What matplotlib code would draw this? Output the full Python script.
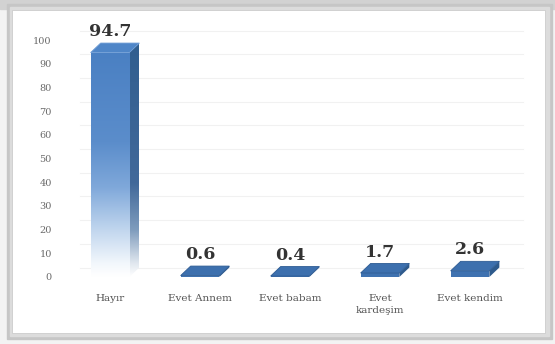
import numpy as np
import matplotlib
matplotlib.use("Agg")
import matplotlib.pyplot as plt
from matplotlib.patches import Polygon, Rectangle
from matplotlib.colors import LinearSegmentedColormap

categories = ["Hayır", "Evet Annem", "Evet babam", "Evet\nkardeşim", "Evet kendim"]
values = [94.7, 0.6, 0.4, 1.7, 2.6]
value_labels = ["94.7", "0.6", "0.4", "1.7", "2.6"]
yticks = [0, 10, 20, 30, 40, 50, 60, 70, 80, 90, 100]

W, H = 555, 344
fig = plt.figure(figsize=(W / 100, H / 100), dpi=100)
fig.patch.set_facecolor("#f2f2f2")

def fr(x0, y0, x1, y1):
    return (x0 / W, 1 - y1 / H, (x1 - x0) / W, (y1 - y0) / H)

# frame shadow and panel
bg = fig.add_axes([0, 0, 1, 1], zorder=-10)
bg.set_xlim(0, W); bg.set_ylim(H, 0); bg.axis("off")
bg.add_patch(Rectangle((0, 0), W, H, color="#f3f3f3"))
bg.add_patch(Rectangle((0, 0), W, 9, color="#d2d2d2"))
bg.add_patch(Rectangle((7, 4), 545, 335, color="#c6c6c6"))
bg.add_patch(Rectangle((10, 7), 539, 329, color="#dcdcdc"))
bg.add_patch(Rectangle((12, 10), 533, 323, facecolor="white", edgecolor="#cccccc", lw=0.6))

x0p, x1p = 65, 515
y0p, y1p = 277, 40
ax = fig.add_axes(fr(x0p, y1p, x1p, y0p))
ax.set_xlim(-0.5, 4.5)
ax.set_ylim(0, 100)
ax.set_facecolor("none")
for s in ax.spines.values():
    s.set_visible(False)

px_x = (x1p - x0p) / 5.0
px_y = (y0p - y1p) / 100.0
ddx = 10 / px_x
ddy = 9.5 / px_y

# back-wall gridlines
for t in yticks:
    ax.plot([-0.5 + ddx + 0.05, 4.5 + ddx - 0.02], [t + ddy, t + ddy],
            color="#f1f1f1", lw=0.8, zorder=0, clip_on=False)

xs = np.arange(len(categories))
bars = ax.bar(xs, values, width=0.43, color="#3f72b0", zorder=3)

front_cmap = LinearSegmentedColormap.from_list(
    "front", [(0, "#ffffff"), (0.06, "#f2f7fc"), (0.2, "#c4d8ef"), (0.4, "#7fa8da"),
              (0.6, "#5b8dcb"), (1, "#4a80c3")])
side_cmap = LinearSegmentedColormap.from_list(
    "side", [(0, "#ffffff"), (0.06, "#dfe6ee"), (0.2, "#7f9cbd"), (0.4, "#42699a"),
             (1, "#305e8f")])

for i, b in enumerate(bars):
    x = b.get_x(); w = b.get_width(); h = b.get_height()
    big = h > 20
    side = Polygon([(x + w, 0), (x + w + ddx, ddy), (x + w + ddx, h + ddy), (x + w, h)],
                   closed=True, facecolor="#2e5a8c", edgecolor="none", zorder=2.5)
    top = Polygon([(x, h), (x + ddx, h + ddy), (x + w + ddx, h + ddy), (x + w, h)],
                  closed=True, facecolor="#4f86c8" if big else "#3d70ae",
                  edgecolor="#6d9bd4" if big else "#2d5b93", lw=0.6, zorder=4)
    ax.add_patch(side)
    ax.add_patch(top)
    if big:
        b.set_facecolor("none")
        grad = np.linspace(0, 1, 256).reshape(-1, 1)
        im = ax.imshow(grad, cmap=front_cmap, origin="lower", aspect="auto",
                       extent=(x, x + w, 0, h), zorder=3)
        im.set_clip_path(b)
        im2 = ax.imshow(grad, cmap=side_cmap, origin="lower", aspect="auto",
                        extent=(x + w, x + w + ddx, 0, h + ddy), zorder=2.6)
        im2.set_clip_path(side)
        side.set_facecolor("none")
    ax.text(x + w / 2, h + ddy + 1.2, value_labels[i],
            ha="center", va="bottom", fontsize=12.5, fontweight="bold",
            family="DejaVu Serif", color="#333333", zorder=5)

ax.set_xlim(-0.5, 4.5)
ax.set_ylim(0, 100)
ax.set_yticks(yticks)
ax.set_yticklabels([str(t) for t in yticks], family="DejaVu Serif", fontsize=7, color="#6a6a6a")
ax.tick_params(axis="y", length=0, pad=9.5)
ax.set_xticks(xs)
ax.set_xticklabels(categories, family="DejaVu Serif", fontsize=7.5, color="#555555", linespacing=1.5)
ax.tick_params(axis="x", length=0, pad=12)

fig.savefig("out.png", dpi=100, facecolor=fig.get_facecolor())
